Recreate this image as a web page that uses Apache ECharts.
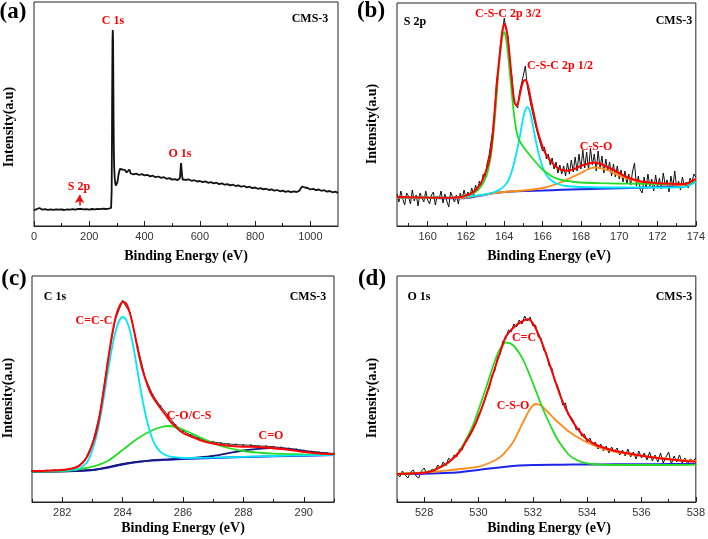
<!DOCTYPE html>
<html>
<head>
<meta charset="utf-8">
<script src="https://cdn.jsdelivr.net/npm/echarts@6/dist/echarts.min.js"></script>
<style>html,body{margin:0;padding:0;background:#fff}#c{width:708px;height:539px}</style>
</head>
<body>
<div id="c"></div>
<script>
// ---------- Panel (a): survey spectrum ----------
const surveyTicks = [0, 200, 400, 600, 800, 1000];
const surveyMinor = [100, 300, 500, 700, 900];
const surveyRaw = [[0,15.5],[5,16],[10,17],[15,18.5],[20,18],[25,16.8],[30,16.3],[40,16.8],[50,16.2],[60,16.6],[70,16.1],[80,16.7],[90,16.3],[100,16.5],[110,16.0],[120,16.7],[130,16.4],[140,16.9],[150,16.3],[160,17.2],[165,18.5],[170,17.0],[180,16.6],[190,16.9],[200,16.4],[210,17.0],[220,16.6],[230,17.1],[240,16.8],[250,17.3],[260,17.0],[270,17.4],[275,17.2],[279,18],[281,35],[282,80],[283,140],[284,185],[285,196],[286,188],[287,150],[288,105],[289,75],[290,60],[292,48],[294,43],[296,40.5],[298,40],[300,41],[302,44],[305,50],[308,54],[311,57],[315,55.5],[320,56.5],[325,54.5],[330,55.8],[335,53.5],[340,55],[345,56.5],[350,52.5],[355,53.2],[360,51.6],[370,52.4],[380,51],[390,51.8],[400,50.6],[410,51.2],[420,49.6],[430,50.3],[440,48.8],[450,49.5],[460,48.1],[470,48.8],[480,47.2],[490,47.9],[500,46.4],[510,46.9],[520,45.8],[525,46.5],[528,48],[530,55],[532,63],[534,62],[536,50],[538,46.5],[542,45.6],[548,46.2],[555,47.2],[560,46.5],[570,45.2],[580,45.8],[590,44.5],[600,45],[610,43.8],[620,44.6],[630,43.2],[640,43.9],[650,42.6],[660,43.3],[670,41.9],[680,42.6],[690,41.3],[700,41.9],[710,40.6],[720,41.3],[730,40],[740,40.6],[750,39.3],[760,40],[770,38.6],[780,39.3],[790,37.9],[800,38.5],[810,37.2],[820,37.9],[830,36.6],[840,37.3],[850,36],[860,36.6],[870,35.3],[880,36],[890,34.7],[900,35.4],[910,34.2],[920,34.9],[930,33.8],[940,34.6],[950,34],[960,35.2],[965,36.5],[970,39.5],[975,40.5],[980,38.5],[985,37.2],[990,38],[1000,36.5],[1010,37.2],[1020,35.9],[1030,36.5],[1040,35.2],[1050,35.8],[1060,34.4],[1070,35],[1080,33.7],[1090,34.3],[1100,33.2]];
const s2pArrow = [[165, 20.5], [165, 31]];

// ---------- Panel (b): S 2p ----------
const s2pTicks = [160, 162, 164, 166, 168, 170, 172, 174];
const s2pMinor = [159, 161, 163, 165, 167, 169, 171, 173];
const s2pRaw = [[158.4,32],[158.5,24],[158.6,35],[158.7,27],[158.8,21],[158.9,33],[159.0,30],[159.1,22],[159.2,36],[159.3,25],[159.4,31],[159.5,20],[159.6,33],[159.7,28],[159.8,24],[159.9,35],[160.0,26],[160.1,22],[160.2,31],[160.3,34],[160.4,21],[160.5,30],[160.6,27],[160.7,35],[160.8,23],[160.9,32],[161.0,25],[161.1,19],[161.2,34],[161.3,29],[161.4,24],[161.5,31],[161.6,22],[161.7,33],[161.8,27],[161.9,36],[162.0,28],[162.1,34],[162.2,29],[162.3,38],[162.4,31],[162.5,41],[162.6,35],[162.7,45],[162.8,40],[162.9,52],[163.0,49],[163.1,62],[163.2,70],[163.3,72],[163.4,96],[163.5,112],[163.6,146],[163.7,156],[163.8,181],[163.9,193],[164.0,208],[164.1,196],[164.2,189],[164.3,163],[164.4,149],[164.5,124],[164.6,125],[164.7,118],[164.8,134],[164.9,136],[165.0,151],[165.1,160],[165.2,140],[165.3,139],[165.4,120],[165.5,121],[165.6,103],[165.7,101],[165.8,88],[165.9,89],[166.0,75],[166.1,79],[166.2,67],[166.3,72],[166.4,61],[166.5,68],[166.6,57],[166.7,64],[166.8,53],[166.9,61],[167.0,52],[167.1,60],[167.2,50],[167.3,63],[167.4,52],[167.5,66],[167.6,54],[167.7,69],[167.8,55],[167.9,72],[168.0,57],[168.1,76],[168.2,58],[168.3,74],[168.4,56],[168.5,78],[168.6,61],[168.7,72],[168.8,55],[168.9,75],[169.0,58],[169.1,70],[169.2,53],[169.3,67],[169.4,55],[169.5,64],[169.6,50],[169.7,62],[169.8,49],[169.9,60],[170.0,47],[170.1,56],[170.2,44],[170.3,55],[170.4,42],[170.5,52],[170.6,41],[170.7,55],[170.8,63],[170.9,40],[171.0,50],[171.1,36],[171.2,33],[171.3,49],[171.4,38],[171.5,52],[171.6,40],[171.7,47],[171.8,35],[171.9,51],[172.0,39],[172.1,48],[172.2,37],[172.3,53],[172.4,41],[172.5,46],[172.6,34],[172.7,50],[172.8,39],[172.9,55],[173.0,38],[173.1,45],[173.2,36],[173.3,49],[173.4,40],[173.5,44],[173.6,38],[173.7,48],[173.8,44],[173.9,52],[174.0,49]];
const s2pFit = [[158.4,29],[159,28.8],[160,28.4],[161,28.2],[161.5,28.5],[161.8,29.3],[162.0,30.5],[162.2,32],[162.4,34.3],[162.6,38],[162.8,43.5],[162.9,47.5],[163.0,52.7],[163.1,58],[163.2,65],[163.3,75],[163.4,92],[163.5,116],[163.6,140],[163.7,160],[163.8,178],[163.9,195],[164.0,202],[164.1,198],[164.2,185],[164.3,166],[164.4,145],[164.5,128],[164.6,121],[164.7,122],[164.8,130],[164.9,139],[165.0,145],[165.1,146],[165.2,143],[165.3,135],[165.4,125],[165.5,116],[165.6,107],[165.7,98],[165.8,91],[165.9,85],[166.0,79],[166.2,71],[166.4,65.5],[166.6,61],[166.8,58],[167.0,56],[167.3,55.3],[167.6,56.6],[168.0,60],[168.3,62],[168.7,63.3],[169.0,62.2],[169.3,59.7],[169.6,57],[170.0,53],[170.4,49],[170.8,46.2],[171.2,44.3],[171.6,43.4],[172,42.8],[172.5,42.4],[173,42.1],[173.4,42],[173.6,43],[173.8,45],[174,47]];
const s2pC1 = [[158.4,29],[160,28.4],[161,28.2],[161.5,28.6],[162,30],[162.3,32],[162.5,34],[162.7,37.5],[162.9,43],[163.0,47],[163.1,52],[163.2,60],[163.3,70],[163.4,86],[163.5,106],[163.6,130],[163.7,155],[163.8,175],[163.9,189],[164.0,194],[164.1,187],[164.2,171],[164.3,151],[164.4,131],[164.5,113],[164.6,99],[164.7,90],[164.8,85],[165.0,79],[165.2,74],[165.5,67],[165.8,60.5],[166.0,56.5],[166.3,52],[166.6,48.5],[167.0,46],[167.5,44.5],[168,43.5],[169,42.8],[170,42.4],[171,42.2],[172,42],[173,41.8],[173.4,41.8],[173.6,42.5],[173.8,44],[174,46]];
const s2pC2 = [[158.4,29],[161,28.3],[162,29.3],[162.5,30.3],[163,31.5],[163.5,34],[163.8,37],[164.0,40],[164.2,45],[164.4,55],[164.6,70],[164.8,88],[164.9,99],[165.0,109],[165.1,116],[165.2,119],[165.3,117],[165.4,110],[165.5,100],[165.6,90],[165.7,80],[165.8,72],[165.9,65],[166.0,59],[166.2,51],[166.5,45],[166.8,42],[167.2,40],[168,39],[170,38.5],[172,38.5],[173.4,39],[173.6,40],[173.8,42],[174,44]];
const s2pC3 = [[158.4,28.5],[160,28],[161,27.8],[161.5,27.8],[162,28.5],[162.5,29.8],[163,31.5],[163.5,33],[164,34],[165,35.5],[165.5,36.5],[166,38],[166.5,40.5],[167,44],[167.5,48.5],[168,53],[168.4,57],[168.7,58.5],[169,58],[169.5,55],[170,50.5],[170.5,47],[171,44.5],[171.5,43],[172,42],[173,41.2],[173.4,41],[173.6,42],[173.8,44],[174,46]];
const s2pBg = [[158.4,28.5],[160,28],[161,27.7],[161.8,27.8],[162.3,28.8],[162.8,30.5],[163.3,32.5],[164,34],[165,35],[166,35.5],[167,36.2],[168,36.8],[169,37.3],[170,37.8],[171,38.3],[172,39],[173,40],[173.4,40.5],[173.7,42.5],[174,46]];

// ---------- Panel (c): C 1s ----------
const c1sTicks = [282, 284, 286, 288, 290];
const c1sMinor = [281, 283, 285, 287, 289, 291];
const c1sRaw = [[281,31],[281.25,31.2],[281.5,31.5],[281.75,31.8],[282,32.2],[282.25,33],[282.5,35.5],[282.75,42],[283,58],[283.25,89],[283.5,139],[283.75,182],[284,201],[284.25,189],[284.5,155],[284.75,124],[285,107],[285.25,96],[285.5,87],[285.75,77],[286,71],[286.25,67],[286.5,64],[286.75,61.5],[287,60],[287.25,59],[287.5,58],[287.75,57.5],[288,57],[288.25,56.8],[288.5,56],[288.75,55.8],[289,55.2],[289.25,54.5],[289.5,53.6],[289.75,52.7],[290,51.5],[290.25,50.5],[290.5,49.8],[290.75,49],[291,48.5]];
const c1sFit = [[281,31],[281.5,31.3],[282,32],[282.2,32.8],[282.4,34],[282.6,37],[282.8,44],[282.9,50],[283.0,58],[283.1,67],[283.2,80],[283.3,97],[283.4,117],[283.5,138],[283.6,158],[283.7,175],[283.8,188],[283.9,196],[284.0,200],[284.1,199],[284.2,193],[284.3,182],[284.4,168],[284.5,153],[284.6,139],[284.7,128],[284.8,119],[284.9,111],[285.0,105],[285.2,96],[285.4,88],[285.6,80],[285.8,74],[286.0,69],[286.3,65],[286.6,61.5],[287.0,58.5],[287.5,56.3],[288.0,55.3],[288.5,55],[289.0,53.8],[289.5,52.2],[290.0,50],[290.5,48.5],[291,47.7]];
const c1sCCC = [[281,30.8],[282,31.3],[282.4,32.2],[282.6,34],[282.8,39],[282.9,44],[283.0,52],[283.1,62],[283.2,75],[283.3,91],[283.4,109],[283.5,128],[283.6,146],[283.7,162],[283.8,174],[283.9,182],[284.0,185],[284.1,183],[284.2,176],[284.3,164],[284.4,148],[284.5,130],[284.6,112],[284.7,96],[284.8,82],[284.9,71],[285.0,62],[285.1,56],[285.2,52],[285.3,49],[285.5,46],[285.7,44.8],[286,44],[287,44.3],[288,45.2],[289,46],[290,46.6],[291,47]];
const c1sCO = [[281,30.5],[282,31],[282.5,32.5],[283,35.3],[283.5,41],[284,52],[284.5,63.5],[285,72],[285.3,75],[285.5,76],[285.7,75.5],[286,72.5],[286.5,65.5],[287,58.8],[287.5,54],[288,51],[288.5,49.3],[289,48.3],[290,47.6],[291,47.3]];
const c1sCdO = [[281,30.4],[283,32],[284,38],[285,41.8],[285.5,42.5],[286,43.5],[286.5,44.5],[287,46],[287.5,48.8],[288,51.5],[288.5,53.2],[288.9,53.8],[289.3,53.3],[289.8,51.8],[290.3,49.8],[290.7,48.5],[291,47.8]];
const c1sBg = [[281,30.3],[282,30.7],[282.5,31.2],[283,32],[283.5,34.2],[284,37.5],[284.5,40],[285,41.5],[286,43],[287,44],[288,45],[289,45.7],[290,46.3],[291,47]];

// ---------- Panel (d): O 1s ----------
const o1sTicks = [528, 530, 532, 534, 536, 538];
const o1sMinor = [527, 529, 531, 533, 535, 537];
const o1sRaw = [[527.0,29],[527.1,25],[527.2,31],[527.3,27],[527.4,24],[527.5,30],[527.6,32],[527.7,26],[527.8,24],[527.9,31],[528.0,34],[528.1,28],[528.2,30],[528.3,33],[528.4,31],[528.5,37],[528.6,34],[528.7,40],[528.8,36],[528.9,44],[529.0,41],[529.1,47],[529.2,45],[529.3,53],[529.4,52],[529.5,61],[529.6,63],[529.7,67],[529.8,76],[529.9,79],[530.0,87],[530.1,92],[530.2,99],[530.3,109],[530.4,114],[530.5,127],[530.6,131],[530.7,145],[530.8,148],[530.9,161],[531.0,163],[531.1,172],[531.2,170],[531.3,178],[531.4,175],[531.5,182],[531.6,178],[531.7,186],[531.8,181],[531.9,185],[532.0,176],[532.1,177],[532.2,165],[532.3,164],[532.4,152],[532.5,149],[532.6,136],[532.7,134],[532.8,121],[532.9,117],[533.0,109],[533.1,97],[533.2,99],[533.3,87],[533.4,85],[533.5,81],[533.6,72],[533.7,74],[533.8,66],[533.9,68],[534.0,60],[534.1,64],[534.2,57],[534.3,60],[534.4,53],[534.5,58],[534.6,51],[534.7,56],[534.8,49],[534.9,55],[535.0,50],[535.1,54],[535.2,47],[535.3,52],[535.4,46],[535.5,53],[535.6,45],[535.7,50],[535.8,43],[535.9,51],[536.0,44],[536.1,49],[536.2,42],[536.3,50],[536.4,41],[536.5,47],[536.6,40],[536.7,49],[536.8,39],[536.9,45],[537.0,50],[537.1,38],[537.2,46],[537.3,40],[537.4,47],[537.5,39],[537.6,44],[537.7,38],[537.8,43],[537.9,41],[538.0,44]];
const o1sFit = [[527,28],[527.5,28.5],[528,29.3],[528.3,31],[528.5,33.7],[528.8,38],[529,42],[529.3,50],[529.5,58.7],[529.8,73],[530,85.3],[530.3,108],[530.5,125.3],[530.8,150],[531,165],[531.2,172],[531.4,177],[531.6,180.5],[531.8,182.7],[531.9,182],[532,178.7],[532.1,174],[532.2,168],[532.3,162],[532.5,147],[532.7,131],[533,107],[533.2,94],[533.5,79],[533.8,68],[534,62.5],[534.3,57.5],[534.5,55.3],[535,51.3],[535.5,48.7],[536,46.3],[536.5,44.3],[537,42.7],[537.5,41.3],[538,40.3]];
const o1sCC = [[527,28],[528,29.7],[528.5,33.3],[528.8,37.5],[529,42],[529.3,51],[529.5,60.3],[529.8,77],[530,92],[530.3,116],[530.5,133],[530.7,148],[530.85,155.5],[531,159.3],[531.15,158.8],[531.3,156],[531.5,149],[531.7,139],[532,119],[532.3,98],[532.5,85],[532.8,68],[533,58.7],[533.3,48],[533.5,43.7],[533.8,39.8],[534,38.7],[534.5,37.3],[535,37],[536,37],[537,37],[538,37.3]];
const o1sCSO = [[527,28],[528,29.5],[529,32],[529.5,33.5],[530,35.3],[530.5,40.3],[530.8,45],[531,50.3],[531.3,61],[531.5,72],[531.7,83],[531.9,93],[532.1,98],[532.3,96.5],[532.5,91.5],[532.8,83],[533,78],[533.3,71],[533.6,65.5],[534,59.5],[534.5,54],[535,50.3],[535.5,48],[536,46.2],[536.5,44.5],[537,43],[537.5,41.8],[538,41]];
const o1sBg = [[527,28],[528,28.3],[529,29.3],[529.5,30.5],[530,32],[530.5,33.8],[531,35.3],[531.5,36.4],[532,37],[533,37.3],[534,37.5],[535,37.7],[536,37.8],[537,37.9],[538,38]];

// ---------- styling / layout ----------
const RED = '#ff0000', GREEN = '#22dd22', CYAN = '#00e8f4', ORANGE = '#ff8c1a', BLUE = '#1f24e6', NAVY = '#1a1a7a';
const SERIF = '"Liberation Serif", "Times New Roman", serif';
const SANS = '"Liberation Sans", Arial, sans-serif';

const panels = [
  {grid: {left: 34, top: 2, width: 304, height: 224}, min: 0, max: 1100, ymax: 224, ticks: surveyTicks, minor: surveyMinor},
  {grid: {left: 397, top: 3, width: 302, height: 223}, min: 158.4, max: 174, ymax: 223, ticks: s2pTicks, minor: s2pMinor},
  {grid: {left: 32, top: 276, width: 302, height: 226}, min: 281, max: 291, ymax: 226, ticks: c1sTicks, minor: c1sMinor},
  {grid: {left: 397, top: 276, width: 302, height: 226}, min: 527, max: 538, ymax: 226, ticks: o1sTicks, minor: o1sMinor}
];

const grids = [], xAxes = [], yAxes = [];
panels.forEach((p, i) => {
  grids.push(Object.assign({show: true, borderColor: '#222', borderWidth: 1, backgroundColor: 'transparent'}, p.grid));
  xAxes.push({
    type: 'value', gridIndex: i, min: p.min, max: p.max,
    axisLine: {show: true, lineStyle: {color: '#222', width: 1}},
    axisTick: {show: true, inside: true, length: 5, customValues: p.ticks, lineStyle: {color: '#222'}},
    axisLabel: {show: true, customValues: p.ticks, margin: 5, color: '#333', fontFamily: SANS, fontSize: 11,
      formatter: v => String(v)},
    splitLine: {show: false}
  });
  xAxes.push({
    type: 'value', gridIndex: i, min: p.min, max: p.max, position: 'bottom',
    axisLine: {show: false},
    axisTick: {show: true, inside: true, length: 3, customValues: p.minor, lineStyle: {color: '#222'}},
    axisLabel: {show: false},
    splitLine: {show: false}
  });
  yAxes.push({type: 'value', gridIndex: i, min: 0, max: p.ymax, show: false});
});

function ln(panel, data, color, width, smooth, z) {
  return {type: 'line', xAxisIndex: panel * 2, yAxisIndex: panel, data: data, showSymbol: false,
    smooth: smooth, lineStyle: {color: color, width: width}, itemStyle: {color: color}, z: z, silent: true, animation: false};
}

const series = [
  Object.assign(ln(0, surveyRaw, '#111', 1.8, false, 2), {
    markLine: {silent: true, symbol: ['none', 'arrow'], symbolSize: [7, 8], animation: false,
      lineStyle: {color: RED, width: 1.5, type: 'solid'}, label: {show: false},
      data: [[{coord: s2pArrow[0]}, {coord: s2pArrow[1]}]]}
  }),
  ln(1, s2pRaw, '#111', 1, false, 1),
  ln(1, s2pBg, BLUE, 2, 0.3, 3),
  ln(1, s2pC3, ORANGE, 1.8, 0.3, 3),
  ln(1, s2pC2, CYAN, 1.8, 0.3, 3),
  ln(1, s2pC1, GREEN, 1.8, 0.3, 3),
  ln(1, s2pFit, RED, 2, 0.3, 4),
  Object.assign(ln(2, c1sRaw, '#333', 1, false, 1), {showSymbol: true, symbol: 'circle', symbolSize: 2}),
  ln(2, c1sBg, BLUE, 2, 0.3, 3),
  ln(2, c1sCdO, NAVY, 1.8, 0.3, 3),
  ln(2, c1sCO, GREEN, 1.8, 0.3, 3),
  ln(2, c1sCCC, CYAN, 1.8, 0.3, 3),
  ln(2, c1sFit, RED, 2, 0.3, 4),
  ln(3, o1sRaw, '#111', 1, false, 1),
  ln(3, o1sBg, BLUE, 2, 0.3, 3),
  ln(3, o1sCSO, ORANGE, 1.8, 0.3, 3),
  ln(3, o1sCC, GREEN, 1.8, 0.3, 3),
  ln(3, o1sFit, RED, 2, 0.3, 4)
];

function txt(x, y, s, color, size, rot) {
  return {type: 'text', x: x, y: y, rotation: rot || 0, z: 100, silent: true,
    style: {text: s, x: 0, y: 0, fill: color, font: 'bold ' + size + 'px ' + SERIF, textAlign: 'center', textVerticalAlign: 'middle'}};
}
const graphics = [
  txt(13, 12, '(a)', '#000', 23), txt(371, 11, '(b)', '#000', 23),
  txt(14, 279, '(c)', '#000', 23), txt(372, 279, '(d)', '#000', 23),
  txt(9, 127, 'Intensity(a.u)', '#000', 14, Math.PI / 2),
  txt(372, 124, 'Intensity(a.u)', '#000', 14, Math.PI / 2),
  txt(8, 398, 'Intensity(a.u)', '#000', 14, Math.PI / 2),
  txt(372, 398, 'Intensity(a.u)', '#000', 14, Math.PI / 2),
  txt(186, 256, 'Binding Energy (eV)', '#000', 14),
  txt(549, 256, 'Binding Energy (eV)', '#000', 14),
  txt(183, 528, 'Binding Energy (eV)', '#000', 14),
  txt(549, 528, 'Binding Energy (eV)', '#000', 14),
  txt(310, 19, 'CMS-3', '#000', 12), txt(674, 21, 'CMS-3', '#000', 12),
  txt(308, 297, 'CMS-3', '#000', 12), txt(674, 297, 'CMS-3', '#000', 12),
  txt(113, 21, 'C 1s', RED, 12), txt(180, 154, 'O 1s', RED, 12), txt(79, 187, 'S 2p', RED, 12),
  txt(415, 22, 'S 2p', '#000', 12),
  txt(508, 14, 'C-S-C 2p 3/2', RED, 12), txt(560, 66, 'C-S-C 2p 1/2', RED, 12), txt(596, 147, 'C-S-O', RED, 12),
  txt(55, 297, 'C 1s', '#000', 12),
  txt(94, 321, 'C=C-C', RED, 12), txt(189, 416, 'C-O/C-S', RED, 12), txt(271, 436, 'C=O', RED, 12),
  txt(419, 297, 'O 1s', '#000', 12),
  txt(524, 338, 'C=C', RED, 12), txt(513, 406, 'C-S-O', RED, 12)
];

const chart = echarts.init(document.getElementById('c'), null, {renderer: 'canvas'});
chart.setOption({
  animation: false,
  backgroundColor: '#fff',
  grid: grids, xAxis: xAxes, yAxis: yAxes,
  series: series,
  graphic: graphics
});
</script>
</body>
</html>
